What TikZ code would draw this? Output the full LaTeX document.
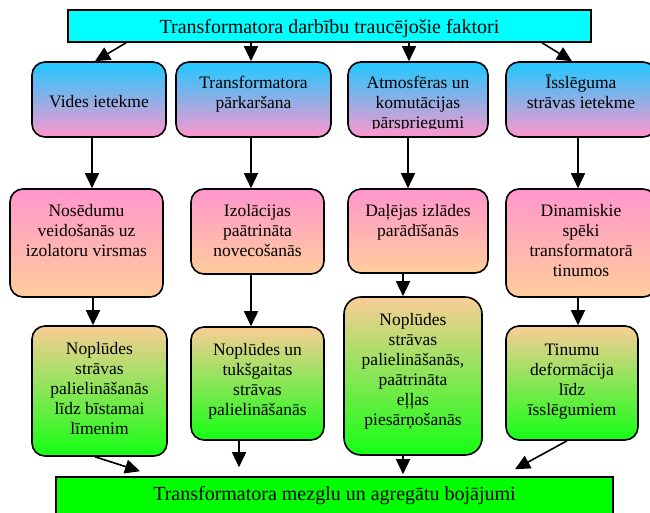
\documentclass[tikz,border=0pt]{standalone}
\usepackage{fontspec}
\setmainfont{Liberation Serif}
\usetikzlibrary{arrows.meta}
\definecolor{cAt}{RGB}{30,200,255}
\definecolor{cAm}{RGB}{195,170,225}
\definecolor{cAb}{RGB}{255,150,205}
\definecolor{cBt}{RGB}{255,150,205}
\definecolor{cBb}{RGB}{255,205,155}
\definecolor{cCt}{RGB}{250,205,150}
\definecolor{cCm}{RGB}{190,235,120}
\definecolor{cCb}{RGB}{20,255,20}
\definecolor{cTe}{RGB}{0,255,255}
\definecolor{cTm}{RGB}{215,255,200}
\definecolor{cGe}{RGB}{0,255,0}
\definecolor{cGm}{RGB}{215,255,215}
\begin{document}
\begin{tikzpicture}[x=1pt,y=-1pt,
  bx/.style={draw=black, line width=1.6pt, inner sep=0pt},
  rowA/.style={bx, rounded corners=13pt, top color=cAt, middle color=cAm, bottom color=cAb},
  rowB/.style={bx, rounded corners=13pt, top color=cBt, bottom color=cBb},
  rowC/.style={bx, rounded corners=13pt, top color=cCt, middle color=cCm, bottom color=cCb},
  headbox/.style={bx, left color=cTe, middle color=cTm, right color=cTe},
  footbox/.style={bx, left color=cGe, middle color=cGm, right color=cGe},
  txt/.style={font=\fontsize{17.5}{20}\selectfont, align=center, inner sep=0pt, anchor=base},
  bigtxt/.style={font=\fontsize{20}{24}\selectfont, align=center, inner sep=0pt, anchor=base},
  arr/.style={line width=1.6pt, -{Triangle[length=15pt,width=14pt]}}]
\useasboundingbox (0,0) rectangle (650,512);
\clip (0,0) rectangle (650,512);
% boxes
\node[headbox, minimum width=523pt, minimum height=32pt] (top) at (329.5,26) {};
\node[rowA, minimum width=134pt, minimum height=75pt] (r1a) at (99,99.5) {};
\node[rowA, minimum width=155pt, minimum height=75pt] (r1b) at (253.5,99.5) {};
\node[rowA, minimum width=140pt, minimum height=75pt] (r1c) at (418,99.5) {};
\node[rowA, minimum width=150pt, minimum height=75pt] (r1d) at (581,99.5) {};
\node[rowB, minimum width=153pt, minimum height=108pt] (r2a) at (86.5,243) {};
\node[rowB, minimum width=133pt, minimum height=85pt] (r2b) at (257.5,231.5) {};
\node[rowB, minimum width=140pt, minimum height=84pt] (r2c) at (418,231) {};
\node[rowB, minimum width=150pt, minimum height=108pt] (r2d) at (581,243) {};
\node[rowC, minimum width=135pt, minimum height=130pt] (r3a) at (99.5,391) {};
\node[rowC, minimum width=133pt, minimum height=113pt] (r3b) at (257.5,383.5) {};
\node[rowC, rounded corners=17pt, minimum width=138pt, minimum height=158pt] (r3c) at (413,376) {};
\node[rowC, minimum width=132pt, minimum height=114pt] (r3d) at (572,383) {};
\node[footbox, minimum width=557pt, minimum height=63pt] (bot) at (334.5,508.5) {};
% texts (anchor=base is the baseline of the last line)
\node[bigtxt] (top-t) at (329.5,33) {Transformatora darbību traucējošie faktori};
\node[txt] (r1a-t) at (99,107) {Vides ietekme};
\node[txt] (r1b-t) at (253.5,108) {Transformatora\\pārkaršana};
\begin{scope}
\clip (348,62) rectangle (488,128);
\node[txt] (r1c-t) at (418,128) {Atmosfēras un\\komutācijas\\pārspriegumi};
\end{scope}
\node[txt] (r1d-t) at (581,108) {Īsslēguma\\strāvas ietekme};
\node[txt] (r2a-t) at (86.5,256) {Nosēdumu\\veidošanās uz\\izolatoru virsmas};
\node[txt] (r2b-t) at (257.5,256) {Izolācijas\\paātrināta\\novecošanās};
\node[txt] (r2c-t) at (418,236) {Daļējas izlādes\\parādīšanās};
\node[txt] (r2d-t) at (581,276) {Dinamiskie\\spēki\\transformatorā\\tinumos};
\node[txt] (r3a-t) at (99.5,434) {Noplūdes\\strāvas\\palielināšanās\\līdz bīstamai\\līmenim};
\node[txt] (r3b-t) at (257.5,415) {Noplūdes un\\tukšgaitas\\strāvas\\palielināšanās};
\node[txt] (r3c-t) at (413,425) {Noplūdes\\strāvas\\palielināšanās,\\paātrināta\\eļļas\\piesārņošanās};
\node[txt] (r3d-t) at (572,415) {Tinumu\\deformācija\\līdz\\īsslēgumiem};
\node[bigtxt] (bot-t) at (334.5,500) {Transformatora mezglu un agregātu bojājumi};
% arrows
\draw[arr] ([xshift=-203.5pt]top.south) -- ([xshift=-4pt]r1a.north);
\draw[arr] ([xshift=-78.5pt]top.south) -- ([xshift=-2.5pt]r1b.north);
\draw[arr] ([xshift=79.5pt]top.south) -- ([xshift=-9pt]r1c.north);
\draw[arr] ([xshift=212.5pt]top.south) -- ([xshift=-9pt]r1d.north);
\draw[arr] ([xshift=-7pt]r1a.south) -- ([xshift=5.5pt]r2a.north);
\draw[arr] ([xshift=-2.5pt]r1b.south) -- ([xshift=-6.5pt]r2b.north);
\draw[arr] ([xshift=-10pt]r1c.south) -- ([xshift=-10pt]r2c.north);
\draw[arr] ([xshift=-3pt]r1d.south) -- ([xshift=-3pt]r2d.north);
\draw[arr] ([xshift=6.5pt]r2a.south) -- ([xshift=-6.5pt]r3a.north);
\draw[arr] ([xshift=-6.5pt]r2b.south) -- ([xshift=-6.5pt]r3b.north);
\draw[arr] ([xshift=-15pt]r2c.south) -- ([xshift=-10pt]r3c.north);
\draw[arr] ([xshift=-3pt]r2d.south) -- ([xshift=6pt]r3d.north);
\draw[arr] ([xshift=-4.5pt]r3a.south) -- ([xshift=-194.5pt,yshift=5pt]bot.north);
\draw[arr] ([xshift=-18.5pt]r3b.south) -- ([xshift=-95.5pt,yshift=9pt]bot.north);
\draw[arr] ([xshift=-10pt]r3c.south) -- ([xshift=68.5pt,yshift=2pt]bot.north);
\draw[arr] ([xshift=-5pt]r3d.south) -- ([xshift=180.5pt,yshift=7pt]bot.north);
\end{tikzpicture}
\end{document}
